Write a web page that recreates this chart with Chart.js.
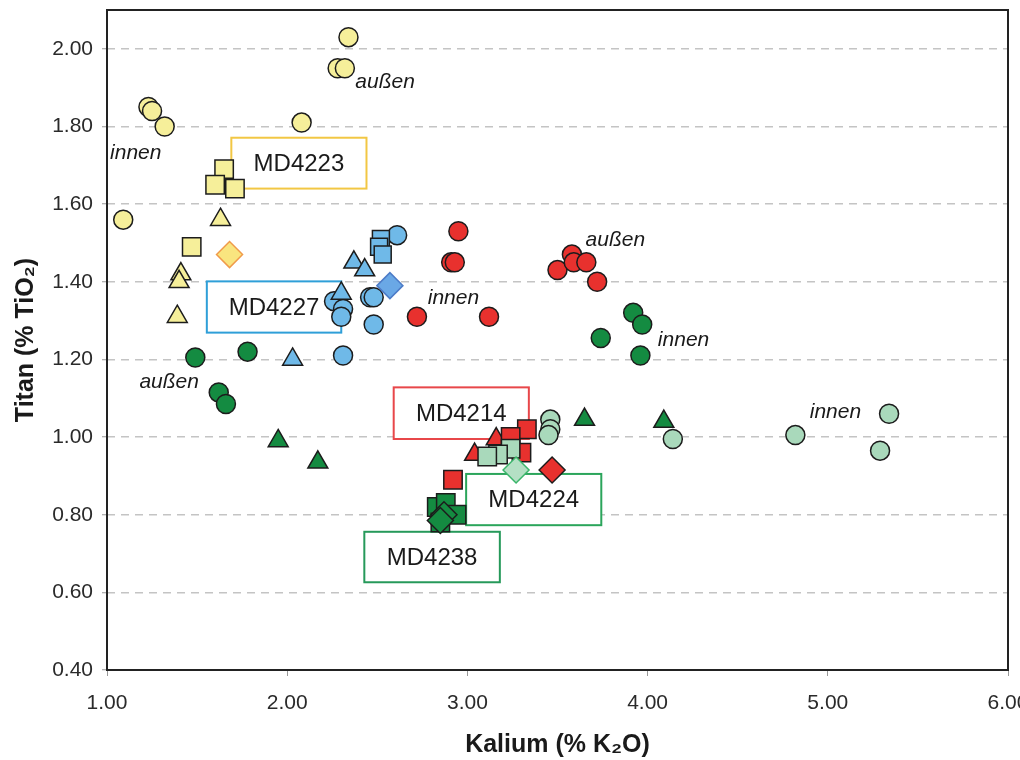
<!DOCTYPE html>
<html>
<head>
<meta charset="utf-8">
<title>Titan / Kalium</title>
<script src="https://cdn.jsdelivr.net/npm/chart.js@4.4.1/dist/chart.umd.min.js"></script>
<style>
  body { margin: 0; background: #fff; }
  canvas { display: block; }
</style>
</head>
<body>
<canvas id="scatterChart" width="1020" height="760"></canvas>
<script>
// Messwerte [K2O %, TiO2 %] pro Probe und Symbol
const md4223Circles = [[2.34, 2.03], [2.28, 1.95], [2.32, 1.95], [1.23, 1.85], [1.25, 1.84], [1.32, 1.80], [2.08, 1.81], [1.09, 1.56]];
const md4223Squares = [[1.65, 1.69], [1.60, 1.65], [1.71, 1.64], [1.47, 1.49]];
const md4223Triangles = [[1.63, 1.56], [1.41, 1.42], [1.40, 1.40], [1.39, 1.31]];
const md4223Diamonds = [[1.68, 1.47]];

const md4227Circles = [[2.61, 1.52], [2.26, 1.35], [2.31, 1.33], [2.30, 1.31], [2.46, 1.36], [2.48, 1.36], [2.48, 1.29], [2.31, 1.21]];
const md4227Squares = [[2.52, 1.51], [2.51, 1.49], [2.53, 1.47]];
const md4227Triangles = [[2.37, 1.45], [2.43, 1.43], [2.30, 1.37], [2.03, 1.20]];
const md4227Diamonds = [[2.57, 1.39]];

const md4214Circles = [[2.95, 1.53], [2.91, 1.45], [2.93, 1.45], [2.72, 1.31], [3.12, 1.31], [3.50, 1.43], [3.58, 1.47], [3.59, 1.45], [3.66, 1.45], [3.72, 1.40]];
const md4214Squares = [[2.92, 0.89], [3.33, 1.02], [3.24, 1.00], [3.30, 0.96]];
const md4214Triangles = [[3.04, 0.955], [3.16, 0.995]];
const md4214Diamonds = [[3.47, 0.915]];

const md4224Circles = [[3.46, 1.045], [3.46, 1.02], [3.45, 1.005], [4.14, 0.995], [4.82, 1.005], [5.34, 1.06], [5.29, 0.965]];
const md4224Squares = [[3.24, 0.97], [3.17, 0.955], [3.11, 0.95]];
const md4224Diamonds = [[3.27, 0.915]];

const md4238Circles = [[1.49, 1.205], [1.78, 1.22], [1.62, 1.115], [1.66, 1.085], [3.92, 1.32], [3.97, 1.29], [3.74, 1.255], [3.96, 1.21]];
const md4238Squares = [[2.83, 0.82], [2.88, 0.83], [2.94, 0.80], [2.85, 0.78]];
const md4238Triangles = [[1.95, 0.99], [2.17, 0.935], [3.65, 1.045], [4.09, 1.04]];
const md4238Diamonds = [[2.87, 0.80], [2.85, 0.785]];

// Achsen
const kaliumTicks = [1, 2, 3, 4, 5, 6];
const titanTicks = [0.4, 0.6, 0.8, 1.0, 1.2, 1.4, 1.6, 1.8, 2.0];

// Probenkästen (Datenkoordinaten) und Beschriftungen
const sampleBoxes = [
    { text: 'MD4223', k: [1.69, 2.44], ti: [1.771, 1.640], color: '#f2c744' },
    { text: 'MD4227', k: [1.554, 2.30], ti: [1.401, 1.269], color: '#2f9fd8' },
    { text: 'MD4214', k: [2.591, 3.341], ti: [1.128, 0.995], color: '#e8474a' },
    { text: 'MD4224', k: [2.993, 3.743], ti: [0.905, 0.773], color: '#2ba55b' },
    { text: 'MD4238', k: [2.428, 3.18], ti: [0.756, 0.626], color: '#26995a' }
];
const sideLabels = [
    { text: 'außen', k: 2.378, ti: 1.914 },
    { text: 'innen', k: 1.017, ti: 1.731 },
    { text: 'außen', k: 3.656, ti: 1.507 },
    { text: 'innen', k: 2.78, ti: 1.359 },
    { text: 'innen', k: 4.057, ti: 1.249 },
    { text: 'außen', k: 1.18, ti: 1.142 },
    { text: 'innen', k: 4.90, ti: 1.063 }
];

const FONT = '"Liberation Sans", Arial, sans-serif';
const OUTLINE = '#1c1c1c';

const toPoints = arr => arr.map(p => ({ x: p[0], y: p[1] }));

function series(label, data, style, radius, fill, border) {
    return {
        label: label,
        data: toPoints(data),
        pointStyle: style,
        pointRadius: radius,
        backgroundColor: fill,
        borderColor: border || OUTLINE,
        borderWidth: 1.5
    };
}

const datasets = [
    series('MD4238 Raute', md4238Diamonds, 'rectRot', 13, '#148b41'),
    series('MD4238 Quadrat', md4238Squares, 'rect', 13, '#148b41'),
    series('MD4224 Raute', md4224Diamonds, 'rectRot', 13, '#b4e0c4', '#3bb56a'),
    series('MD4224 Quadrat', md4224Squares, 'rect', 13, '#a9d9bb'),
    series('MD4214 Raute', md4214Diamonds, 'rectRot', 13, '#e8312e'),
    series('MD4214 Quadrat', md4214Squares, 'rect', 13, '#e8312e'),
    series('MD4214 Dreieck', md4214Triangles, 'triangle', 11.5, '#e8312e'),
    series('MD4224 Kreis', md4224Circles, 'circle', 9.5, '#a9d9bb'),
    series('MD4238 Dreieck', md4238Triangles, 'triangle', 11.5, '#148b41'),
    series('MD4238 Kreis', md4238Circles, 'circle', 9.5, '#148b41'),
    series('MD4214 Kreis', md4214Circles, 'circle', 9.5, '#e8312e'),
    series('MD4227 Raute', md4227Diamonds, 'rectRot', 13, '#6aa8e6', '#4d7cc8'),
    series('MD4227 Quadrat', md4227Squares, 'rect', 12, '#6fb9e8'),
    series('MD4227 Dreieck', md4227Triangles, 'triangle', 11.5, '#6fb9e8'),
    series('MD4227 Kreis', md4227Circles, 'circle', 9.5, '#6fb9e8'),
    series('MD4223 Raute', md4223Diamonds, 'rectRot', 13, '#f9e57f', '#f09a4a'),
    series('MD4223 Quadrat', md4223Squares, 'rect', 13, '#f6ef9a'),
    series('MD4223 Dreieck', md4223Triangles, 'triangle', 11.5, '#f6ef9a'),
    series('MD4223 Kreis', md4223Circles, 'circle', 9.5, '#f6ef9a')
];

// Kästen, Beschriftungen und Rahmen
const annotate = {
    id: 'annotate',
    beforeDatasetsDraw(chart) {
        const { ctx, scales: { x, y } } = chart;
        ctx.save();
        sampleBoxes.forEach(b => {
            const l = x.getPixelForValue(b.k[0]);
            const r = x.getPixelForValue(b.k[1]);
            const t = y.getPixelForValue(b.ti[0]);
            const bt = y.getPixelForValue(b.ti[1]);
            ctx.fillStyle = '#fff';
            ctx.fillRect(l, t, r - l, bt - t);
            ctx.strokeStyle = b.color;
            ctx.lineWidth = 2;
            ctx.strokeRect(l, t, r - l, bt - t);
            ctx.fillStyle = '#1a1a1a';
            ctx.font = '24px ' + FONT;
            ctx.textAlign = 'center';
            ctx.textBaseline = 'middle';
            ctx.fillText(b.text, (l + r) / 2, (t + bt) / 2 + 1);
        });
        ctx.restore();
    },
    afterDatasetsDraw(chart) {
        const { ctx, chartArea: a, scales: { x, y } } = chart;
        ctx.save();
        ctx.fillStyle = '#1a1a1a';
        ctx.font = 'italic 21px ' + FONT;
        ctx.textAlign = 'left';
        ctx.textBaseline = 'middle';
        sideLabels.forEach(s => {
            ctx.fillText(s.text, x.getPixelForValue(s.k), y.getPixelForValue(s.ti));
        });
        ctx.strokeStyle = '#222';
        ctx.lineWidth = 2;
        ctx.strokeRect(a.left, a.top, a.right - a.left, a.bottom - a.top);
        ctx.restore();
    }
};

function noScalePadding(s) {
    s.paddingLeft = 0;
    s.paddingRight = 0;
    s.paddingTop = 0;
    s.paddingBottom = 0;
}

const ctx = document.getElementById('scatterChart').getContext('2d');
const scatterChart = new Chart(ctx, {
    type: 'scatter',
    data: { datasets: datasets },
    options: {
        responsive: false,
        animation: false,
        layout: { autoPadding: false, padding: { left: 0, right: 12, top: 10, bottom: 0 } },
        plugins: { legend: { display: false }, tooltip: { enabled: false } },
        scales: {
            x: {
                type: 'linear',
                min: kaliumTicks[0],
                max: kaliumTicks[kaliumTicks.length - 1],
                afterBuildTicks: s => { s.ticks = kaliumTicks.map(v => ({ value: v })); },
                afterFit: s => { s.height = 90; noScalePadding(s); },
                border: { display: false },
                grid: { drawOnChartArea: false, tickLength: 6, tickColor: '#999', tickWidth: 1 },
                ticks: {
                    padding: 15,
                    color: '#2a2a2a',
                    font: { family: FONT, size: 21 },
                    callback: v => Number(v).toFixed(2)
                },
                title: {
                    display: true,
                    text: 'Kalium (% K₂O)',
                    color: '#1a1a1a',
                    font: { family: FONT, size: 25, weight: 'bold' },
                    padding: { top: 0, bottom: 0 }
                }
            },
            y: {
                type: 'linear',
                min: 0.4,
                max: 2.1,
                afterBuildTicks: s => { s.ticks = titanTicks.map(v => ({ value: v })); },
                afterFit: s => { s.width = 107; noScalePadding(s); },
                border: { display: false, dash: [8, 6] },
                grid: { color: '#c4c4c4', lineWidth: 1.5, tickLength: 5, tickColor: '#999', tickWidth: 1, tickBorderDash: [] },
                ticks: {
                    padding: 9,
                    color: '#2a2a2a',
                    font: { family: FONT, size: 21 },
                    callback: v => Number(v).toFixed(2)
                },
                title: {
                    display: true,
                    text: 'Titan (% TiO₂)',
                    color: '#1a1a1a',
                    font: { family: FONT, size: 25, weight: 'bold' },
                    padding: { top: 11, bottom: 0 }
                }
            }
        }
    },
    plugins: [annotate]
});
</script>
</body>
</html>
